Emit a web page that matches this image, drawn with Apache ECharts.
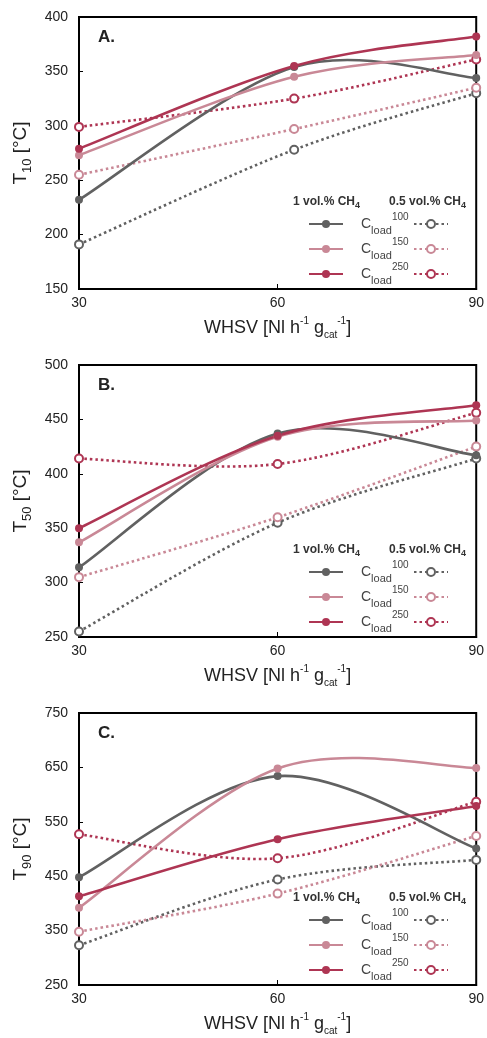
<!DOCTYPE html>
<html><head><meta charset="utf-8">
<script src="https://cdn.jsdelivr.net/npm/echarts@6/dist/echarts.min.js"></script>
<style>html,body{margin:0;padding:0;background:#fff;overflow:hidden}#c{width:487px;height:1038px}</style>
</head><body><div id="c"></div>
<script>
// WHSV values (x) for each panel
const whsvA = [30, 62.5, 90];
const whsvB = [30, 60, 90];
const whsvC = [30, 60, 90];
const xTicks = [30, 60, 90];

// Panel A: T10 [°C]
const a1_100 = [232, 354, 344];
const a1_150 = [273, 345, 365];
const a1_250 = [279, 355, 382];
const a05_100 = [191, 278, 330];
const a05_150 = [255, 297, 335];
const a05_250 = [299, 325, 361];

// Panel B: T50 [°C]
const b1_100 = [314, 437, 417];
const b1_150 = [337, 434, 449];
const b1_250 = [350, 435, 463];
const b05_100 = [255, 355, 414];
const b05_150 = [305, 360, 425];
const b05_250 = [414, 409, 456];

// Panel C: T90 [°C]
const c1_100 = [448, 634, 501];
const c1_150 = [392, 648, 649];
const c1_250 = [413, 518, 579];
const c05_100 = [323, 444, 480];
const c05_150 = [348, 418, 524];
const c05_250 = [527, 483, 587];

const loads = ['100', '150', '250'];
const panelLabels = ['A.', 'B.', 'C.'];
const yNames = ['10', '50', '90'];
const yRanges = [[150, 400, 50], [250, 500, 50], [250, 750, 100]];

const colors = ['#616161', '#c98896', '#ae3553'];
const FF = 'Liberation Sans, Arial, sans-serif';
const gridTops = [17, 365, 713];
const gridH = 272;
const DOT = [2.5, 3];

const panels = [
  {x: whsvA, solid: [a1_100, a1_150, a1_250], dot: [a05_100, a05_150, a05_250]},
  {x: whsvB, solid: [b1_100, b1_150, b1_250], dot: [b05_100, b05_150, b05_250]},
  {x: whsvC, solid: [c1_100, c1_150, c1_250], dot: [c05_100, c05_150, c05_250]}
];

// smoothed curve (spreadsheet-style cardinal spline) through the points, via the axis scales
function curveSeries(g, xs, ys, color, dotted) {
  return {
    type: 'custom', xAxisIndex: g, yAxisIndex: g, silent: true, z: dotted ? 2 : 3,
    data: xs.map((x, k) => [x, ys[k]]),
    renderItem: (params, api) => {
      if (params.dataIndex !== 0) return null;
      const P = xs.map((x, k) => api.coord([x, ys[k]]));
      let d = 'M' + P[0][0] + ' ' + P[0][1];
      for (let i = 0; i < P.length - 1; i++) {
        const p0 = P[i - 1] || P[i], p1 = P[i], p2 = P[i + 1], p3 = P[i + 2] || P[i + 1];
        const c1 = [p1[0] + (p2[0] - p0[0]) / 6, p1[1] + (p2[1] - p0[1]) / 6];
        const c2 = [p2[0] - (p3[0] - p1[0]) / 6, p2[1] - (p3[1] - p1[1]) / 6];
        d += ' C' + c1[0] + ' ' + c1[1] + ' ' + c2[0] + ' ' + c2[1] + ' ' + p2[0] + ' ' + p2[1];
      }
      return {
        type: 'path', shape: {pathData: d},
        style: {fill: 'none', stroke: color, lineWidth: 2.6, lineDash: dotted ? DOT : null}
      };
    }
  };
}

const grid = [], xAxis = [], yAxis = [], series = [], legend = [], title = [];

panels.forEach((p, g) => {
  const top = gridTops[g];
  grid.push({left: 79, top: top, width: 401, height: gridH, show: true, borderColor: '#000', borderWidth: 2, backgroundColor: 'transparent'});
  xAxis.push({
    type: 'value', gridIndex: g, min: xTicks[0], max: xTicks[2], interval: 30,
    axisLine: {lineStyle: {color: '#000', width: 2}},
    axisTick: {inside: true, length: 5, lineStyle: {color: '#000', width: 1}},
    splitLine: {show: false},
    axisLabel: {fontSize: 14, color: '#222', fontFamily: FF, margin: 7},
    name: '{m|WHSV [Nl h}{sup|-1}{m| g}{sub|cat}{sup|-1}{m|]}',
    nameLocation: 'middle', nameGap: 27,
    nameTextStyle: {
      rich: {
        m: {fontSize: 18, color: '#222', fontFamily: FF, lineHeight: 24},
        sup: {fontSize: 10, color: '#222', fontFamily: FF, lineHeight: 14, verticalAlign: 'top'},
        sub: {fontSize: 10, color: '#222', fontFamily: FF, lineHeight: 14, verticalAlign: 'bottom'}
      }
    }
  });
  yAxis.push({
    type: 'value', gridIndex: g, min: yRanges[g][0], max: yRanges[g][1], interval: yRanges[g][2],
    axisLine: {show: true, lineStyle: {color: '#000', width: 2}},
    axisTick: {show: true, inside: true, length: 4, lineStyle: {color: '#000', width: 1}},
    splitLine: {show: false},
    axisLabel: {fontSize: 14, color: '#222', fontFamily: FF, margin: 11},
    name: '{m|T}{s|' + yNames[g] + '}{m| [°C]}',
    nameLocation: 'middle', nameGap: 35,
    nameTextStyle: {
      rich: {
        m: {fontSize: 19, color: '#222', fontFamily: FF, lineHeight: 26},
        s: {fontSize: 13, color: '#222', fontFamily: FF, lineHeight: 16, verticalAlign: 'bottom'}
      }
    }
  });

  const solidNames = [], dotNames = [];
  p.solid.forEach((ys, i) => {
    const nm = 'S' + g + '_' + loads[i];
    solidNames.push(nm);
    series.push(curveSeries(g, p.x, ys, colors[i], false));
    series.push({
      name: nm, type: 'line', xAxisIndex: g, yAxisIndex: g,
      data: p.x.map((x, k) => [x, ys[k]]),
      symbol: 'circle', symbolSize: 8,
      lineStyle: {color: colors[i], width: 2.6, opacity: 0},
      itemStyle: {color: colors[i]},
      z: 5
    });
  });
  p.dot.forEach((ys, i) => {
    const nm = 'D' + g + '_' + loads[i];
    dotNames.push(nm);
    series.push(curveSeries(g, p.x, ys, colors[i], true));
    series.push({
      name: nm, type: 'line', xAxisIndex: g, yAxisIndex: g,
      data: p.x.map((x, k) => [x, ys[k]]),
      symbol: 'emptyCircle', symbolSize: 8,
      lineStyle: {color: colors[i], width: 2.6, type: DOT, opacity: 0},
      itemStyle: {color: colors[i], borderColor: colors[i], borderWidth: 1.5},
      z: 4
    });
  });

  legend.push({
    data: solidNames, left: 308, top: top + 195, orient: 'vertical', padding: 0,
    itemWidth: 34, itemHeight: 10, itemGap: 1, selectedMode: false,
    lineStyle: {opacity: 1},
    formatter: (n) => '{c|C}{sub|load}{sup|' + n.split('_')[1] + '}',
    textStyle: {
      rich: {
        c: {fontSize: 14, color: '#444', fontFamily: FF, lineHeight: 24, padding: [0, 0, 0, 13]},
        sub: {fontSize: 11, color: '#444', fontFamily: FF, lineHeight: 16, verticalAlign: 'bottom'},
        sup: {fontSize: 10, color: '#444', fontFamily: FF, lineHeight: 10, verticalAlign: 'top'}
      }
    }
  });
  legend.push({
    data: dotNames, left: 413, top: top + 202, orient: 'vertical', padding: 0,
    itemWidth: 34, itemHeight: 10, itemGap: 15, selectedMode: false,
    lineStyle: {opacity: 1},
    formatter: () => '{e| }',
    textStyle: {rich: {e: {fontSize: 10, lineHeight: 10}}}
  });

  title.push({
    text: panelLabels[g], left: 98, top: top + 12, padding: 0,
    textStyle: {fontSize: 17, fontWeight: 'bold', color: '#222', fontFamily: FF}
  });
  const hdrRich = {
    b: {fontSize: 12, fontWeight: 'bold', color: '#333', fontFamily: FF, lineHeight: 16},
    s: {fontSize: 9, fontWeight: 'bold', color: '#333', fontFamily: FF, lineHeight: 10, verticalAlign: 'bottom'}
  };
  title.push({text: '{b|1 vol.% CH}{s|4}', left: 293, top: top + 177, padding: 0, textStyle: {rich: hdrRich}});
  title.push({text: '{b|0.5 vol.% CH}{s|4}', left: 389, top: top + 177, padding: 0, textStyle: {rich: hdrRich}});
});

const chart = echarts.init(document.getElementById('c'), null, {renderer: 'canvas'});
chart.setOption({
  animation: false, backgroundColor: '#fff',
  grid, xAxis, yAxis, series, legend, title
});
</script>
</body></html>
